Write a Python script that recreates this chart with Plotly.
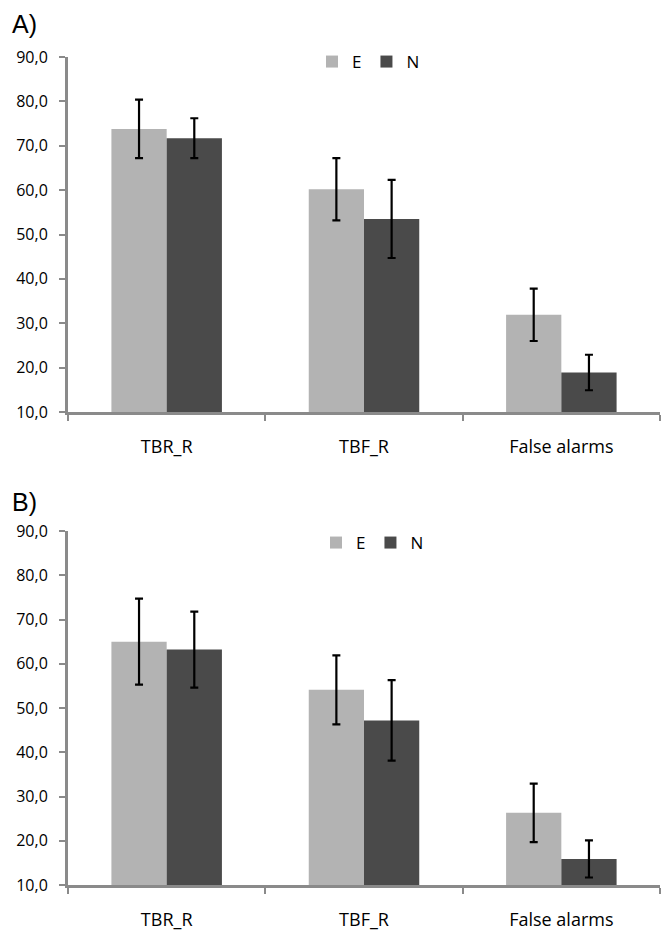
import plotly.graph_objects as go

categories = ["TBR_R", "TBF_R", "False alarms"]
series_names = ["E", "N"]

a_E = [73.8, 60.2, 31.9]
a_E_err = [6.6, 7.0, 5.9]
a_N = [71.7, 53.5, 18.9]
a_N_err = [4.5, 8.8, 4.0]

b_E = [65.0, 54.1, 26.3]
b_E_err = [9.7, 7.8, 6.6]
b_N = [63.2, 47.2, 15.9]
b_N_err = [8.6, 9.1, 4.2]

y_ticks = [10, 20, 30, 40, 50, 60, 70, 80, 90]
panel_labels = ["A)", "B)"]

W, H = 662, 931
COL_E = "#b3b3b3"
COL_N = "#4a4a4a"
AXIS_COL = "#8a8a8a"
FONT = "Open Sans"

fig = go.Figure()

panels = [
    (a_E, a_E_err, a_N, a_N_err, "x", "y", "legend"),
    (b_E, b_E_err, b_N, b_N_err, "x2", "y2", "legend2"),
]
for vE, eE, vN, eN, xa, ya, lg in panels:
    for name, vals, errs, col in [(series_names[0], vE, eE, COL_E), (series_names[1], vN, eN, COL_N)]:
        fig.add_trace(go.Bar(
            x=categories, y=vals, name=name, marker=dict(color=col, line=dict(width=0)),
            error_y=dict(type="data", array=errs, visible=True, color="black", thickness=2.2, width=4),
            xaxis=xa, yaxis=ya, legend=lg,
        ))

def px2y(p):
    return 1 - p / H

xdom = [68 / W, 660 / W]
common_x = dict(
    type="category", range=[-0.5, 2.5], showline=True, linecolor=AXIS_COL, linewidth=3,
    ticks="outside", tickson="boundaries", ticklen=6, tickwidth=2, tickcolor=AXIS_COL,
    showgrid=False, zeroline=False, tickfont=dict(family=FONT, size=18, color="#000"),
    domain=xdom, automargin=False,
)
common_y = dict(
    range=[10, 90], tickvals=y_ticks, tickformat=".1f", showline=True, linecolor=AXIS_COL,
    linewidth=3, ticks="outside", ticklen=6, tickwidth=2, tickcolor=AXIS_COL, showgrid=False,
    zeroline=False, tickfont=dict(family=FONT, size=16, color="#000"), automargin=False,
    ticklabelstandoff=8,
)

fig.update_layout(
    width=W, height=H, margin=dict(l=0, r=0, t=0, b=0),
    paper_bgcolor="white", plot_bgcolor="white", separators=",.",
    barmode="group", bargap=0.44, bargroupgap=0,
    xaxis=dict(**common_x, anchor="y", ticklabelstandoff=16),
    yaxis=dict(**common_y, domain=[px2y(412), px2y(57)], anchor="x"),
    xaxis2=dict(**common_x, anchor="y2", ticklabelstandoff=16),
    yaxis2=dict(**common_y, domain=[px2y(885), px2y(531)], anchor="x2"),
    legend=dict(orientation="h", x=312 / W, y=px2y(44), xanchor="left", yanchor="top",
                font=dict(family=FONT, size=17, color="#000"), itemwidth=30,
                bgcolor="rgba(0,0,0,0)", traceorder="normal"),
    legend2=dict(orientation="h", x=316 / W, y=px2y(525), xanchor="left", yanchor="top",
                 font=dict(family=FONT, size=17, color="#000"), itemwidth=30,
                 bgcolor="rgba(0,0,0,0)", traceorder="normal"),
    annotations=[
        dict(text=panel_labels[0], x=10 / W, y=px2y(8), xref="paper", yref="paper",
             xanchor="left", yanchor="top", showarrow=False,
             font=dict(family="Liberation Sans", size=25, color="#000")),
        dict(text=panel_labels[1], x=10 / W, y=px2y(486), xref="paper", yref="paper",
             xanchor="left", yanchor="top", showarrow=False,
             font=dict(family="Liberation Sans", size=25, color="#000")),
    ],
    showlegend=True,
)

fig.write_html("out.html", config={"displayModeBar": False},
               post_script="document.body.style.margin='0';")
